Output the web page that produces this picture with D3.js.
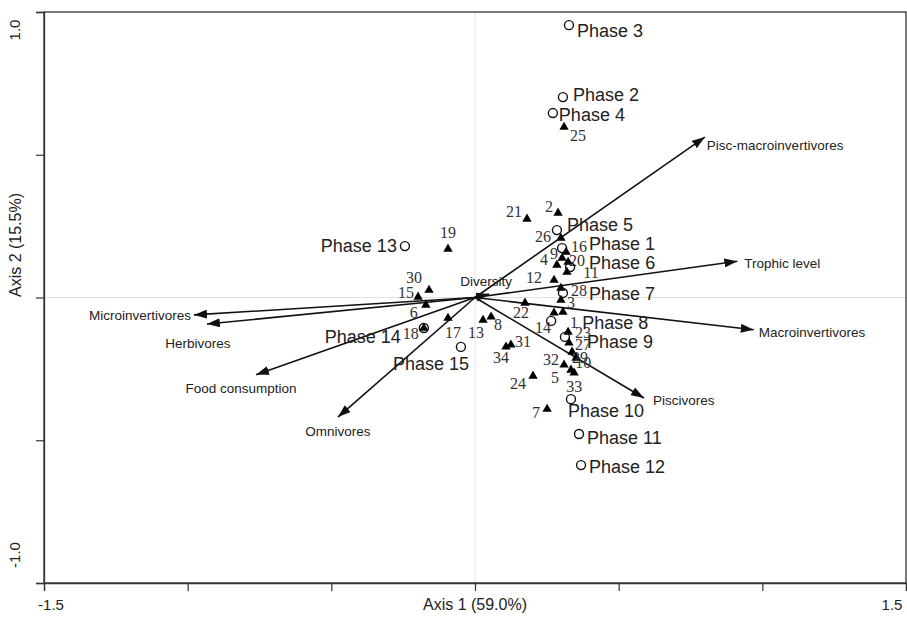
<!DOCTYPE html>
<html>
<head>
<meta charset="utf-8">
<script src="https://cdn.jsdelivr.net/npm/d3@7"></script>
<style>
  body { margin: 0; background: #fff; }
  text { font-family: "Liberation Sans", Arial, sans-serif; }
</style>
</head>
<body>
<svg width="907" height="623"></svg>
<script>
// --- data ---
const siteLabels = ["1","2","3","4","5","6","7","8","9","10","11","12","13","14","15","16","17",
  "18","19","20","21","22","23","24","25","26","27","28","29","30","31","32","33","34"];
const siteX = [0.306,0.289,0.299,0.285,0.334,-0.171,0.251,0.056,0.303,0.352,0.320,0.275,0.028,0.275,-0.198,0.317,-0.094,
  -0.178,-0.094,0.324,0.181,0.174,0.324,0.202,0.310,0.299,0.327,0.299,0.338,-0.160,0.125,0.310,0.345,0.108];
const siteY = [-0.051,0.296,-0.009,0.114,-0.254,-0.026,-0.391,-0.068,0.138,-0.212,0.089,0.061,-0.079,-0.054,0.002,0.159,-0.072,
  -0.107,0.170,0.124,0.275,-0.019,-0.121,-0.275,0.597,0.208,-0.159,0.033,-0.191,0.026,-0.166,-0.236,-0.264,-0.173];

const phaseLabels = ["Phase 1","Phase 2","Phase 3","Phase 4","Phase 5","Phase 6","Phase 7","Phase 8",
  "Phase 9","Phase 10","Phase 11","Phase 12","Phase 13","Phase 14","Phase 15"];
const phaseX = [0.303,0.306,0.327,0.271,0.285,0.331,0.306,0.265,0.313,0.334,0.362,0.369,-0.244,-0.178,-0.049];
const phaseY = [0.173,0.702,0.954,0.646,0.236,0.107,0.016,-0.082,-0.138,-0.356,-0.478,-0.587,0.180,-0.107,-0.173];

const vectorNames = ["Pisc-macroinvertivores","Trophic level","Macroinvertivores","Piscivores","Omnivores",
  "Food consumption","Herbivores","Microinvertivores","Diversity"];
const vectorX = [0.800,0.913,0.970,0.588,-0.477,-0.762,-0.933,-0.978,0.049];
const vectorY = [0.562,0.127,-0.113,-0.352,-0.419,-0.271,-0.093,-0.061,0.012];

const xTicks = [-1.5,-1,-0.5,0,0.5,1,1.5];
const yTicks = [-1,-0.5,0,0.5,1];

// --- label placement (pixels, relative to the mark) ---
const siteLabelDx = [11,-9,10,-13,-16,-12,-11,7,-8,7,24,-20,-7,-11,-12,13,5,-13,0,9,-13,-4,15,-15,14,-18,14,18,8,-15,12,-13,0,-5];
const siteLabelDy = [10,-6,2,-5,7,8,3,8,-5,4,0,-3,12,15,-4,-6,14,5,-16,-2,-7,10,0,7,8,-2,2,2,5,-13,-3,-5,14,11];
const phaseLabelPos = [[27,-4,"start"],[10,-2,"start"],[8,6,"start"],[6,2,"start"],[10,-5,"start"],[19,-4,"start"],
  [26,1,"start"],[31,2,"start"],[22,5,"start"],[-3,12,"start"],[8,4,"start"],[8,2,"start"],
  [-8,0,"end"],[-23,9,"end"],[-30,17,"middle"]];
const vectorLabelPos = [[2,8,"start"],[7,2,"start"],[5,3,"start"],[9,3,"start"],[0,14,"middle"],
  [-15,14,"middle"],[-9,19,"middle"],[-3,1,"end"],[-3,-13,"middle"]];

const svg = d3.select("svg");
const x = d3.scaleLinear().domain([-1.5, 1.5]).range([44, 906]);
const y = d3.scaleLinear().domain([-1, 1]).range([583, 12]);

svg.append("defs").append("marker")
  .attr("id", "head")
  .attr("markerUnits", "userSpaceOnUse")
  .attr("markerWidth", 13).attr("markerHeight", 9)
  .attr("refX", 13).attr("refY", 4.5)
  .attr("orient", "auto")
  .append("path").attr("d", "M0,0L13,4.5L0,9Z").attr("fill", "#111");

// zero lines
svg.append("line").attr("x1", x(0)).attr("x2", x(0)).attr("y1", y(1)).attr("y2", y(-1))
  .attr("stroke", "#e2e2e2").attr("stroke-width", 1);
svg.append("line").attr("x1", x(-1.5)).attr("x2", x(1.5)).attr("y1", y(0)).attr("y2", y(0))
  .attr("stroke", "#e2e2e2").attr("stroke-width", 1);

// frame + axes
svg.append("rect").attr("x", x(-1.5)).attr("y", y(1))
  .attr("width", x(1.5) - x(-1.5)).attr("height", y(-1) - y(1))
  .attr("fill", "none").attr("stroke", "#333").attr("stroke-width", 1.3);

const xAxis = svg.append("g").attr("transform", `translate(0,${y(-1)})`)
  .call(d3.axisBottom(x).tickValues(xTicks).tickSize(8).tickFormat(""));
const yAxis = svg.append("g").attr("transform", `translate(${x(-1.5)},0)`)
  .call(d3.axisLeft(y).tickValues(yTicks).tickSize(8).tickFormat(""));
[xAxis, yAxis].forEach(g => {
  g.select(".domain").attr("stroke", "#333").attr("stroke-width", 1.3);
  g.selectAll(".tick line").attr("stroke", "#333").attr("stroke-width", 1.2);
});

svg.append("text").attr("x", x(-1.5) + 7).attr("y", 610).attr("text-anchor", "middle")
  .attr("font-size", 15).attr("fill", "#222").text("-1.5");
svg.append("text").attr("x", x(1.5) - 14).attr("y", 610).attr("text-anchor", "middle")
  .attr("font-size", 15).attr("fill", "#222").text("1.5");
svg.append("text").attr("transform", `translate(20,${y(1) + 18}) rotate(-90)`).attr("text-anchor", "middle")
  .attr("font-size", 15).attr("fill", "#222").text("1.0");
svg.append("text").attr("transform", `translate(20,${y(-1) - 28}) rotate(-90)`).attr("text-anchor", "middle")
  .attr("font-size", 15).attr("fill", "#222").text("-1.0");
svg.append("text").attr("x", x(0)).attr("y", 610).attr("text-anchor", "middle")
  .attr("font-size", 16).attr("fill", "#222").text("Axis 1 (59.0%)");
svg.append("text").attr("transform", "translate(21,245) rotate(-90)").attr("text-anchor", "middle")
  .attr("font-size", 16).attr("fill", "#222").text("Axis 2 (15.5%)");

// vectors
const vectors = vectorNames.map((n, i) => ({ name: n, vx: vectorX[i], vy: vectorY[i], pos: vectorLabelPos[i] }));
svg.append("g").selectAll("line").data(vectors).join("line")
  .attr("x1", x(0)).attr("y1", y(0))
  .attr("x2", d => x(d.vx)).attr("y2", d => y(d.vy))
  .attr("stroke", "#111").attr("stroke-width", 1.6)
  .attr("marker-end", "url(#head)");
svg.append("g").selectAll("text").data(vectors).join("text")
  .attr("x", d => x(d.vx) + d.pos[0]).attr("y", d => y(d.vy) + d.pos[1])
  .attr("text-anchor", d => d.pos[2]).attr("dominant-baseline", "central")
  .attr("font-size", 13.5).attr("fill", "#222").text(d => d.name);

// sites
const sites = siteLabels.map((s, i) => ({ id: s, sx: siteX[i], sy: siteY[i], dx: siteLabelDx[i], dy: siteLabelDy[i] }));
svg.append("g").selectAll("path").data(sites).join("path")
  .attr("transform", d => `translate(${x(d.sx)},${y(d.sy)})`)
  .attr("d", d3.symbol(d3.symbolTriangle, 38))
  .attr("fill", "#000");
svg.append("g").selectAll("text").data(sites).join("text")
  .attr("x", d => x(d.sx) + d.dx).attr("y", d => y(d.sy) + d.dy)
  .attr("text-anchor", "middle").attr("dominant-baseline", "central")
  .style("font-family", '"Liberation Serif", "DejaVu Serif", serif')
  .attr("font-size", 16).attr("fill", "#333").text(d => d.id);

// phases
const phases = phaseLabels.map((p, i) => ({ name: p, px: phaseX[i], py: phaseY[i], pos: phaseLabelPos[i] }));
svg.append("g").selectAll("circle").data(phases).join("circle")
  .attr("cx", d => x(d.px)).attr("cy", d => y(d.py)).attr("r", 4.5)
  .attr("fill", "none").attr("stroke", "#111").attr("stroke-width", 1.4);
svg.append("g").selectAll("text").data(phases).join("text")
  .attr("x", d => x(d.px) + d.pos[0]).attr("y", d => y(d.py) + d.pos[1])
  .attr("text-anchor", d => d.pos[2]).attr("dominant-baseline", "central")
  .attr("font-size", 18).attr("fill", "#222").text(d => d.name);
</script>
</body>
</html>
